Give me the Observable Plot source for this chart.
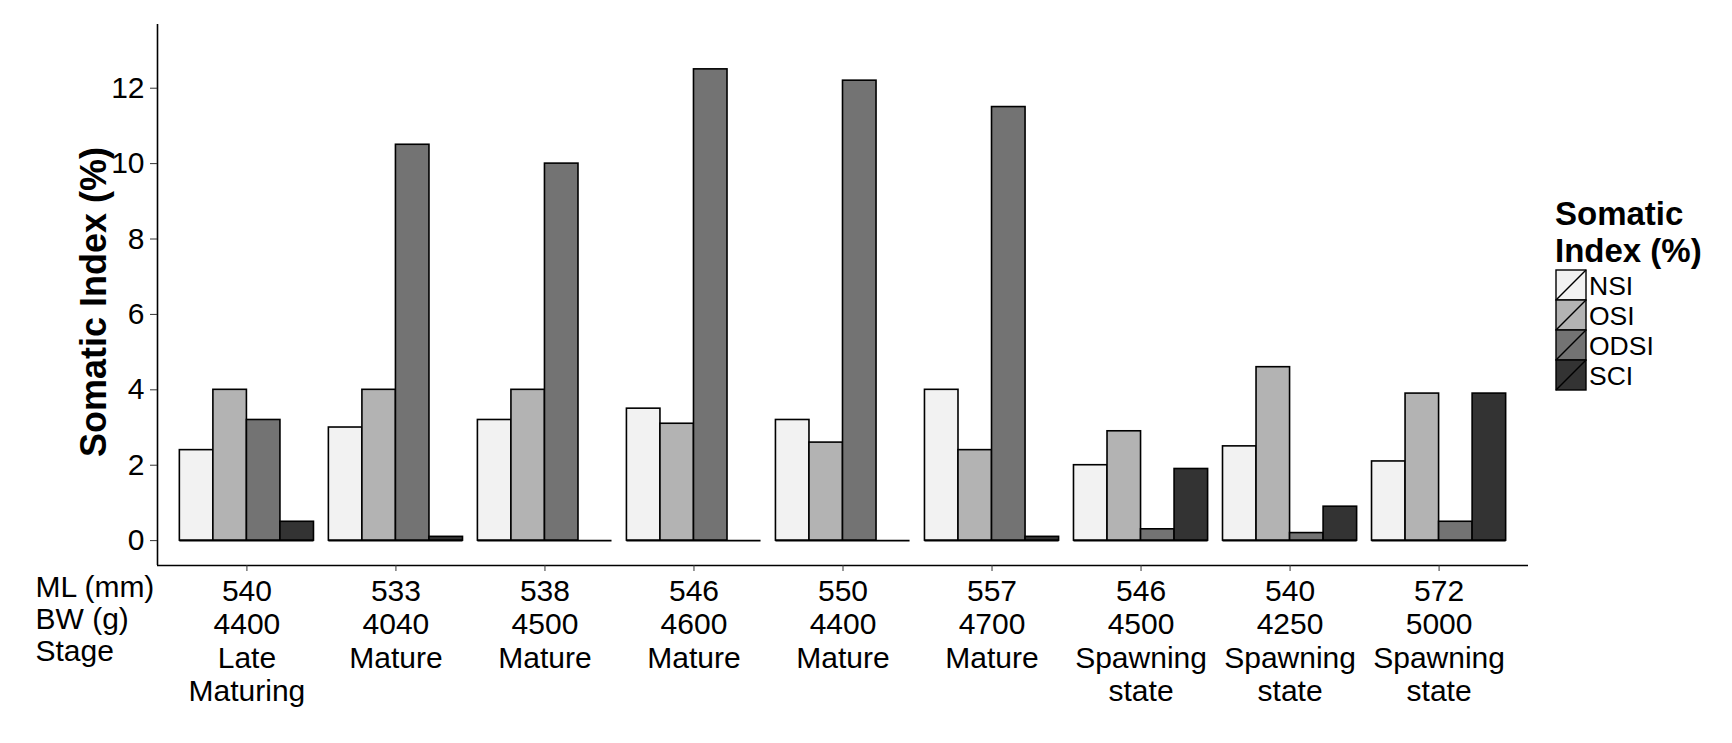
<!DOCTYPE html>
<html>
<head>
<meta charset="utf-8">
<script src="https://cdn.jsdelivr.net/npm/d3@7"></script>
<script src="https://cdn.jsdelivr.net/npm/@observablehq/plot@0.6"></script>
<style>
  html, body { margin: 0; padding: 0; background: #fff; }
  body { width: 1732px; height: 743px; position: relative; overflow: hidden; font-family: "Liberation Sans", Arial, sans-serif; }
  #chart { position: absolute; left: 0; top: 0; }
  #legend { position: absolute; left: 1555px; top: 195px; color: #000; }
  #legend .title { font-weight: bold; font-size: 33px; line-height: 37px; }
</style>
</head>
<body>
<div id="chart"></div>
<div id="legend"><div class="title">Somatic<br>Index (%)</div></div>
<script>
// ---- data ----
const mlValues = [540, 533, 538, 546, 550, 557, 546, 540, 572];
const bwValues = [4400, 4040, 4500, 4600, 4400, 4700, 4500, 4250, 5000];
const stageLabels = ["Late Maturing", "Mature", "Mature", "Mature", "Mature", "Mature", "Spawning state", "Spawning state", "Spawning state"];
const seriesNames = ["NSI", "OSI", "ODSI", "SCI"];
const NSI  = [2.4, 3.0, 3.2, 3.5, 3.2, 4.0, 2.0, 2.5, 2.1];
const OSI  = [4.0, 4.0, 4.0, 3.1, 2.6, 2.4, 2.9, 4.6, 3.9];
const ODSI = [3.2, 10.5, 10.0, 12.5, 12.2, 11.5, 0.3, 0.2, 0.5];
const SCI  = [0.5, 0.1, 0.0, 0.0, 0.0, 0.1, 1.9, 0.9, 3.9];
const seriesFills = ["#f2f2f2", "#b3b3b3", "#737373", "#333333"];
const yTicks = [0, 2, 4, 6, 8, 10, 12];
const rowLabels = ["ML (mm)", "BW (g)", "Stage"];
const yTitle = "Somatic Index (%)";

// ---- table ----
const seriesValues = [NSI, OSI, ODSI, SCI];
const groupIds = mlValues.map((_, i) => i + 1);
const rows = [];
seriesNames.forEach((s, k) => {
  seriesValues[k].forEach((v, i) => rows.push({g: i + 1, k, series: s, value: v}));
});
// ggplot-like dodge: group width 0.9 split into 4 bars
const groupWidth = 0.9;
const barW = groupWidth / seriesNames.length;
const xDomain = [0.4, 9.6];
const yDomain = [-0.66, 13.69];

const tickText = i => [mlValues[i - 1], bwValues[i - 1], ...stageLabels[i - 1].split(" ")].join("\n");

const chart = Plot.plot({
  width: 1732,
  height: 743,
  marginLeft: 157,
  marginRight: 204,
  marginTop: 24,
  marginBottom: 178,
  style: {fontFamily: "'Liberation Sans', Arial, sans-serif", color: "#000", background: "#fff"},
  x: {type: "linear", domain: xDomain},
  y: {domain: yDomain},
  color: {domain: seriesNames, range: seriesFills},
  marks: [
    Plot.rectY(rows, {
      x1: d => d.g - groupWidth / 2 + d.k * barW,
      x2: d => d.g - groupWidth / 2 + (d.k + 1) * barW,
      y1: 0,
      y2: "value",
      fill: "series",
      stroke: "#000",
      strokeWidth: 1.6
    }),
    Plot.ruleY(groupIds, {
      y: () => 0,
      x1: g => g - groupWidth / 2,
      x2: g => g + groupWidth / 2,
      stroke: "#000",
      strokeWidth: 1.6
    }),
    Plot.ruleX([xDomain[0]], {stroke: "#000", strokeWidth: 1.6}),
    Plot.ruleY([yDomain[0]], {stroke: "#000", strokeWidth: 1.6}),
    Plot.axisY({
      ticks: yTicks,
      tickSize: 7,
      tickPadding: 6,
      fontSize: 30,
      stroke: "#333",
      label: null
    }),
    Plot.axisX({
      ticks: groupIds,
      tickSize: 6,
      tickPadding: 6,
      fontSize: 30,
      lineHeight: 1.11,
      stroke: "#333",
      tickFormat: tickText,
      label: null
    }),
    Plot.text([yTitle], {
      frameAnchor: "left",
      textAnchor: "middle",
      rotate: -90,
      dx: -63,
      dy: 7,
      fontSize: 36,
      fontWeight: "bold",
      lineAnchor: "middle",
      fill: "#000"
    }),
    Plot.text([rowLabels.join("\n")], {
      frameAnchor: "bottom-left",
      textAnchor: "start",
      lineAnchor: "top",
      dx: -122,
      dy: 8,
      fontSize: 30,
      lineHeight: 1.08,
      fill: "#000"
    })
  ]
});
document.getElementById("chart").appendChild(chart);

// ---- legend ----
const keyW = 30, keyH = 30;
const lsvg = d3.select("#legend").append("svg")
  .attr("width", 170)
  .attr("height", keyH * seriesNames.length + 4)
  .style("display", "block")
  .style("margin-top", "0px");
const item = lsvg.selectAll("g").data(seriesNames).join("g")
  .attr("transform", (d, i) => `translate(1,${1 + i * keyH})`);
item.append("rect")
  .attr("width", keyW).attr("height", keyH)
  .attr("fill", (d, i) => seriesFills[i])
  .attr("stroke", "#000").attr("stroke-width", 1.4);
item.append("line")
  .attr("x1", 0).attr("y1", keyH).attr("x2", keyW).attr("y2", 0)
  .attr("stroke", "#000").attr("stroke-width", 1.4);
item.append("text")
  .attr("x", keyW + 3).attr("y", keyH / 2).attr("dy", "0.36em")
  .attr("font-size", 26.5)
  .attr("font-family", "'Liberation Sans', Arial, sans-serif")
  .attr("fill", "#000")
  .text(d => d);
</script>
</body>
</html>
